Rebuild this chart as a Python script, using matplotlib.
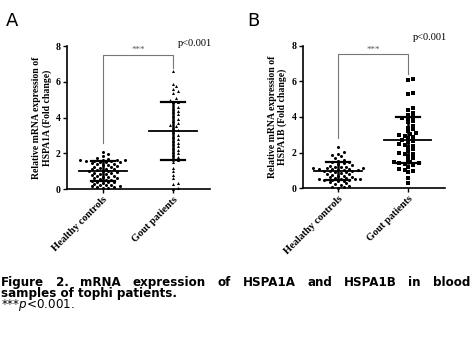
import numpy as np
import matplotlib
matplotlib.use("Agg")
import matplotlib.pyplot as plt

# values (fold change)
groups_a = ["Healthy controls", "Gout patients"]
groups_b = ["Healathy controls", "Gout patients"]

hspa1a_healthy = [0.05, 0.08, 0.1, 0.12, 0.15, 0.18, 0.2, 0.22, 0.25, 0.3, 0.35, 0.38,
                  0.4, 0.42, 0.45, 0.5, 0.52, 0.55, 0.6, 0.62, 0.65, 0.7, 0.72, 0.75,
                  0.8, 0.82, 0.85, 0.9, 0.92, 0.95, 1.0, 1.0, 1.02, 1.05, 1.1, 1.12,
                  1.15, 1.2, 1.22, 1.25, 1.3, 1.32, 1.35, 1.4, 1.42, 1.45, 1.5, 1.5,
                  1.52, 1.55, 1.55, 1.58, 1.6, 1.6, 1.62, 1.65, 1.7, 1.75, 1.85, 1.95, 2.1]
hspa1a_gout = [6.6, 5.9, 5.75, 5.6, 5.5, 5.4, 5.1, 5.0, 4.9, 4.85, 4.6, 4.5, 4.4, 4.3,
               4.2, 4.1, 3.9, 3.8, 3.7, 3.6, 3.55, 3.4, 3.3, 3.2, 3.0, 2.9, 2.8, 2.7,
               2.6, 2.5, 2.4, 2.3, 2.2, 2.1, 2.0, 1.9, 1.8, 1.7, 1.6, 1.5, 1.2, 1.0,
               0.8, 0.6, 0.35, 0.3, 0.05, 0.0]
hspa1b_healthy = [0.02, 0.05, 0.1, 0.15, 0.2, 0.25, 0.3, 0.35, 0.4, 0.42, 0.45, 0.45,
                  0.48, 0.5, 0.5, 0.52, 0.55, 0.58, 0.6, 0.62, 0.65, 0.7, 0.72, 0.75,
                  0.8, 0.82, 0.85, 0.9, 0.92, 0.95, 0.98, 1.0, 1.02, 1.05, 1.05, 1.08,
                  1.1, 1.1, 1.12, 1.15, 1.15, 1.18, 1.2, 1.22, 1.25, 1.3,
                  1.35, 1.4, 1.45, 1.5, 1.55, 1.6, 1.7, 1.8, 1.85, 1.95, 2.05, 2.3]
hspa1b_gout = [6.1, 6.05, 5.35, 5.3, 4.5, 4.4, 4.2, 4.1, 4.0, 3.95, 3.9, 3.8, 3.7, 3.5,
               3.4, 3.3, 3.2, 3.1, 3.05, 3.0, 2.95, 2.9, 2.8, 2.7, 2.65, 2.6, 2.5, 2.45,
               2.4, 2.3, 2.2, 2.1, 2.0, 1.95, 1.9, 1.8, 1.7, 1.6, 1.5, 1.45, 1.4, 1.4,
               1.35, 1.3, 1.2, 1.1, 1.05, 1.0, 0.9, 0.6, 0.3]

# mean and SD as drawn in the figure
means_a = [1.0, 3.25]
sds_a = [0.55, 1.62]
means_b = [0.95, 2.7]
sds_b = [0.5, 1.3]

yticks = [0, 2, 4, 6, 8]

plt.rcParams['font.family'] = ['Liberation Serif', 'DejaVu Serif']

fig = plt.figure(figsize=(4.72, 3.40), dpi=100)


def swarm(vals, xc, px_x=70.0, px_y=17.9, d=3.5):
    # simple deterministic beeswarm in pixel space
    vals = sorted(vals)
    placed = []
    xs = []
    for v in vals:
        k = 0
        while True:
            off = ((k + 1) // 2) * (1 if k % 2 else -1) * d * 0.8 if k else 0
            ok = True
            for (px, py) in placed:
                if (px - off) ** 2 + (py - v * px_y) ** 2 < d * d:
                    ok = False
                    break
            if ok:
                break
            k += 1
        placed.append((off, v * px_y))
        xs.append(xc + off / px_x)
    return xs, vals


def panel(ax, data, markers, means, sds, labels, ylabel, bracket):
    for i, (vals, m) in enumerate(zip(data, markers)):
        xs, ys = swarm(vals, i)
        ax.plot(xs, ys, m, color='black', ms=2.2, mew=0, clip_on=False, zorder=3)
        ax.plot([i - 0.34, i + 0.34], [means[i], means[i]], color='black', lw=1.3, zorder=4)
        ax.plot([i, i], [means[i] - sds[i], means[i] + sds[i]], color='black', lw=1.8, zorder=4)
        for yy in (means[i] - sds[i], means[i] + sds[i]):
            ax.plot([i - 0.17, i + 0.17], [yy, yy], color='black', lw=1.6, zorder=4)
    top, left_end, right_end = bracket
    ax.plot([0, 0, 1, 1], [left_end, top, top, right_end], color='#777777', lw=0.8,
            clip_on=False)
    ax.text(0.5, top + 0.05, '***', ha='center', va='bottom', fontsize=6.5, color='#555555')
    ax.set_xlim(-0.51, 1.53)
    ax.set_ylim(0, 8)
    ax.set_yticks(yticks)
    ax.set_yticklabels([str(t) for t in yticks], fontsize=7, fontweight='bold')
    ax.set_xticks([0, 1])
    ax.set_xticklabels(labels, rotation=45, ha='right', rotation_mode='anchor',
                       fontsize=7.5, fontweight='bold')
    ax.set_ylabel(ylabel, fontsize=7, fontweight='bold', labelpad=3, linespacing=1.1)
    for s in ('top', 'right'):
        ax.spines[s].set_visible(False)
    for s in ('left', 'bottom'):
        ax.spines[s].set_linewidth(1.2)
    ax.tick_params(length=3, width=1.0, pad=1.5)


axA = fig.add_axes([0.142, 0.444, 0.303, 0.42])
panel(axA, [hspa1a_healthy, hspa1a_gout], ['o', '^'], means_a, sds_a, groups_a,
      'Relative mRNA expression of\nHSPA1A (Fold change)', (7.52, 2.6, 6.8))
axB = fig.add_axes([0.641, 0.446, 0.301, 0.42])
panel(axB, [hspa1b_healthy, hspa1b_gout], ['o', 's'], means_b, sds_b, groups_b,
      'Relative mRNA expression of\nHSPA1B (Fold change)', (7.5, 2.8, 6.4))

fig.text(178 / 472, 1 - 43 / 340, 'p<0.001', fontsize=7.5, va='center', ha='left')
fig.text(413 / 472, 1 - 38 / 340, 'p<0.001', fontsize=7.5, va='center', ha='left')

fig.text(6 / 472, 1 - 21 / 340, 'A', fontsize=13, family='DejaVu Sans', va='center')
fig.text(247 / 472, 1 - 21 / 340, 'B', fontsize=13, family='DejaVu Sans', va='center')

# caption, first line justified to the full width
cap_font = dict(fontsize=8.6, fontweight='bold', family='DejaVu Sans')
words = "Figure 2. mRNA expression of HSPA1A and HSPA1B in blood".split()
renderer = fig.canvas.get_renderer()
texts = [fig.text(0, 1 - 286 / 340, w, va='baseline', ha='left', **cap_font) for w in words]
widths = [t.get_window_extent(renderer).width for t in texts]
x0, x1 = 1.0, 470.0
gap = (x1 - x0 - sum(widths)) / (len(words) - 1)
x = x0
for t, w in zip(texts, widths):
    t.set_x(x / 472)
    x += w + gap
fig.text(1 / 472, 1 - 297 / 340, 'samples of tophi patients.', va='baseline', ha='left', **cap_font)
fig.text(1 / 472, 1 - 308 / 340, r'***$\it{p}$<0.001.', va='baseline', ha='left',
         fontsize=8.6, family='DejaVu Sans')

fig.savefig('out.png', dpi=100)
